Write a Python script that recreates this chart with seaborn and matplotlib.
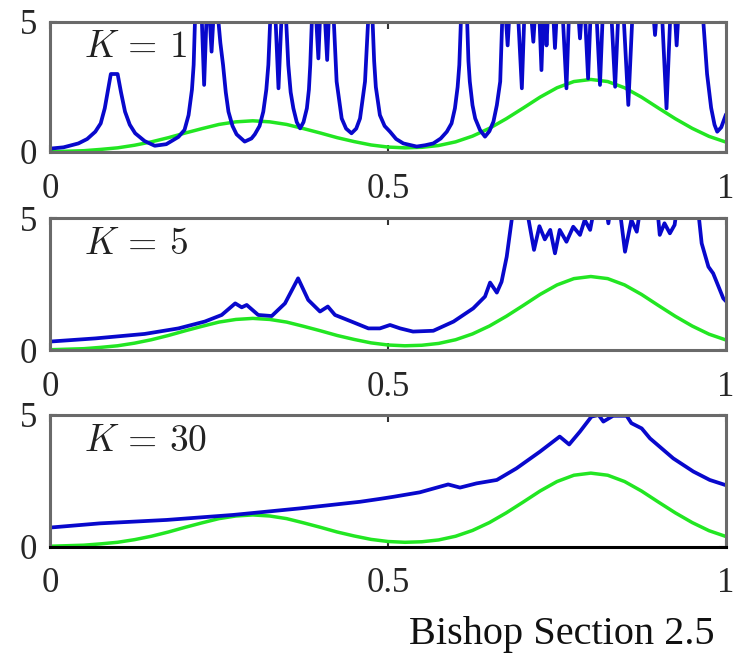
import matplotlib
matplotlib.use("Agg")
import matplotlib.pyplot as plt
import seaborn as sns
import pandas as pd

# ---------------- data ----------------
x_true = [0.0, 0.025, 0.05, 0.075, 0.1, 0.125, 0.15, 0.175, 0.2, 0.225, 0.25,
          0.275, 0.3, 0.325, 0.35, 0.375, 0.4, 0.425, 0.45, 0.475, 0.5,
          0.525, 0.55, 0.575, 0.6, 0.625, 0.65, 0.675, 0.7, 0.725, 0.75,
          0.775, 0.8, 0.825, 0.85, 0.875, 0.9, 0.925, 0.95, 0.975, 1.0]
p_true = [0.01, 0.03, 0.05, 0.10, 0.16, 0.26, 0.39, 0.55, 0.73, 0.90, 1.06,
          1.16, 1.20, 1.16, 1.06, 0.90, 0.73, 0.55, 0.40, 0.27, 0.19,
          0.16, 0.18, 0.25, 0.39, 0.61, 0.91, 1.28, 1.69, 2.11, 2.47,
          2.71, 2.79, 2.71, 2.47, 2.11, 1.69, 1.28, 0.91, 0.60, 0.38]

x_k1 = [0.0, 0.02, 0.042, 0.055, 0.067, 0.075, 0.081, 0.086, 0.090, 0.100,
        0.105, 0.111, 0.118, 0.126, 0.14, 0.155, 0.172, 0.19, 0.199, 0.205,
        0.210, 0.2125, 0.215, 0.224, 0.228, 0.232, 0.2355, 0.239, 0.2425, 0.2475,
        0.252, 0.256, 0.260, 0.264, 0.270, 0.276, 0.288, 0.298, 0.303, 0.310,
        0.3155, 0.320, 0.323, 0.3265, 0.333, 0.338, 0.343, 0.3485, 0.3525, 0.356,
        0.360, 0.365, 0.370, 0.375, 0.380, 0.383, 0.385, 0.388, 0.393, 0.397,
        0.400, 0.406, 0.410, 0.413, 0.419, 0.424, 0.4315, 0.438, 0.446, 0.453,
        0.4586, 0.466, 0.4715, 0.4765, 0.4795, 0.482, 0.488, 0.495, 0.503, 0.512,
        0.5227, 0.5424, 0.555, 0.567, 0.578, 0.587, 0.594, 0.599, 0.603, 0.6055,
        0.6085, 0.6165, 0.619, 0.621, 0.625, 0.629, 0.636, 0.6435, 0.650, 0.656,
        0.661, 0.666, 0.6695, 0.6735, 0.677, 0.680, 0.692, 0.698, 0.702, 0.711,
        0.715, 0.718, 0.7235, 0.727, 0.730, 0.7325, 0.7345, 0.737, 0.744, 0.747,
        0.750, 0.758, 0.764, 0.768, 0.781, 0.784, 0.787, 0.791, 0.796, 0.800,
        0.808, 0.8136, 0.818, 0.830, 0.836, 0.841, 0.848, 0.8555, 0.862, 0.892,
        0.895, 0.898, 0.905, 0.912, 0.918, 0.924, 0.927, 0.930, 0.9665, 0.972,
        0.978, 0.983, 0.987, 0.993, 1.0]
p_k1 = [0.13, 0.18, 0.33, 0.50, 0.78, 1.10, 1.68, 2.40, 3.00, 3.00,
        2.30, 1.55, 1.05, 0.72, 0.42, 0.24, 0.30, 0.58, 0.85, 1.42,
        2.40, 3.35, 5.50, 5.50, 2.58, 5.50, 5.50, 3.86, 5.50, 5.50,
        4.20, 3.35, 2.30, 1.55, 1.00, 0.68, 0.40, 0.52, 0.68, 1.00,
        1.55, 2.40, 3.35, 5.50, 5.50, 2.45, 5.50, 5.50, 3.35, 2.30,
        1.68, 1.15, 0.91, 1.15, 1.68, 2.40, 3.35, 5.50, 5.50, 3.60,
        5.50, 5.50, 3.54, 5.50, 5.50, 2.71, 1.29, 0.90, 0.72, 0.90,
        1.29, 2.71, 5.50, 5.50, 3.50, 2.50, 1.42, 1.00, 0.78, 0.50,
        0.33, 0.21, 0.26, 0.33, 0.52, 0.78, 1.10, 1.68, 2.50, 3.35,
        5.50, 5.50, 3.50, 2.71, 1.80, 1.29, 0.85, 0.59, 0.80, 1.17,
        1.80, 2.71, 5.50, 5.50, 4.10, 5.50, 5.50, 2.45, 5.50, 5.50,
        4.24, 5.50, 5.50, 3.15, 5.50, 5.50, 4.10, 5.50, 5.50, 4.00,
        5.50, 5.50, 2.45, 5.50, 5.50, 4.37, 5.50, 5.50, 2.83, 5.50,
        5.50, 2.58, 5.50, 5.50, 2.51, 5.50, 5.50, 1.81, 5.50, 5.50,
        4.50, 5.50, 5.50, 1.68, 5.50, 5.50, 4.10, 5.50, 5.00, 3.00,
        1.70, 1.05, 0.78, 0.95, 1.45]

x_k5 = [0.0, 0.067, 0.14, 0.19, 0.229, 0.254, 0.274, 0.2836, 0.291, 0.308,
        0.328, 0.3476, 0.367, 0.382, 0.3994, 0.411, 0.4216, 0.446, 0.471, 0.488,
        0.503, 0.518, 0.537, 0.567, 0.597, 0.626, 0.6435, 0.651, 0.661, 0.668,
        0.6756, 0.683, 0.687, 0.705, 0.7076, 0.716, 0.724, 0.732, 0.740, 0.747,
        0.754, 0.764, 0.774, 0.784, 0.791, 0.799, 0.806, 0.822, 0.826, 0.830,
        0.842, 0.8506, 0.860, 0.868, 0.874, 0.898, 0.902, 0.909, 0.917, 0.924,
        0.928, 0.958, 0.964, 0.974, 0.981, 0.996, 1.0]
p_k5 = [0.32, 0.44, 0.61, 0.82, 1.08, 1.33, 1.77, 1.62, 1.71, 1.33,
        1.29, 1.77, 2.72, 1.90, 1.46, 1.65, 1.33, 1.08, 0.82, 0.82,
        0.95, 0.82, 0.70, 0.73, 1.08, 1.58, 2.03, 2.56, 2.18, 2.59,
        3.54, 4.94, 5.50, 5.50, 5.00, 3.80, 4.70, 4.20, 4.56, 3.67,
        4.56, 4.11, 4.68, 4.37, 4.94, 4.56, 5.50, 5.50, 4.81, 5.50,
        5.50, 3.73, 4.94, 4.49, 5.50, 5.50, 4.37, 4.81, 4.43, 4.75,
        5.50, 5.50, 4.05, 3.16, 2.91, 1.96, 1.85]

x_k30 = [0.0, 0.074, 0.1726, 0.271, 0.370, 0.4586, 0.488, 0.508, 0.547, 0.589,
         0.6065, 0.631, 0.661, 0.690, 0.725, 0.754, 0.768, 0.784, 0.801, 0.8116,
         0.8186, 0.833, 0.853, 0.860, 0.8753, 0.8876, 0.922, 0.9517, 0.976, 1.0]
p_k30 = [0.72, 0.88, 1.01, 1.20, 1.45, 1.70, 1.81, 1.89, 2.06, 2.36,
         2.24, 2.40, 2.53, 2.97, 3.61, 4.18, 3.88, 4.37, 4.94, 5.00,
         4.75, 4.97, 4.97, 4.69, 4.49, 4.11, 3.35, 2.85, 2.53, 2.33]

k_values = [1, 5, 30]
x_ticks = [0, 0.5, 1]
x_tick_labels = ["0", "0.5", "1"]
y_ticks = [0, 5]
y_tick_labels = ["0", "5"]
caption = "Bishop Section 2.5"

# ---------------- styling ----------------
sns.set_style("white")
plt.rcParams["font.family"] = ["Liberation Serif", "DejaVu Serif"]
plt.rcParams["mathtext.fontset"] = "cm"

GREEN = "#22e622"
BLUE = "#0808cc"
SPINE = "#6a6a6a"

W, H = 742, 654
fig = plt.figure(figsize=(W / 100, H / 100), dpi=100)

panels = [(22, 152), (218.3, 350), (415, 546.5)]
estimates = [(x_k1, p_k1), (x_k5, p_k5), (x_k30, p_k30)]

df_true = pd.DataFrame({"x": x_true, "p": p_true})

for i, ((top, bot), (xs, ps), k) in enumerate(zip(panels, estimates, k_values)):
    ax = fig.add_axes([50 / W, 1 - bot / H, 676 / W, (bot - top) / H])
    sns.lineplot(data=df_true, x="x", y="p", ax=ax, color=GREEN, lw=2.5,
                 sort=False, estimator=None, zorder=2)
    df_est = pd.DataFrame({"x": xs, "p": ps})
    sns.lineplot(data=df_est, x="x", y="p", ax=ax, color=BLUE, lw=2.7,
                 sort=False, estimator=None, zorder=3)
    ax.set_xlim(0, 1)
    ax.set_ylim(0, 5)
    ax.set_xlabel("")
    ax.set_ylabel("")
    ax.set_xticks(x_ticks)
    ax.set_xticklabels(x_tick_labels)
    ax.set_yticks(y_ticks)
    ax.set_yticklabels(y_tick_labels)
    ax.tick_params(axis="x", direction="in", length=5, width=1.5, color="#333333",
                   top=True, bottom=True, labelsize=25, pad=15)
    ax.tick_params(axis="y", direction="in", length=5, width=1.5, color="#333333",
                   left=True, right=True, labelsize=25, pad=9)
    for name, sp in ax.spines.items():
        sp.set_visible(True)
        sp.set_color(SPINE)
        sp.set_linewidth(2.2)
        sp.set_zorder(5)
    if i == 2:
        ax.spines["bottom"].set_color("black")
    ax.text(0.050, 0.80, rf"$K\,=\,{k}$", transform=ax.transAxes,
            fontsize=27, ha="left", va="center", color="#222222")

fig.text(715 / W, 10 / H, caption, ha="right", va="baseline",
         fontsize=29, color="#111111")

fig.savefig("out.png", dpi=100)
